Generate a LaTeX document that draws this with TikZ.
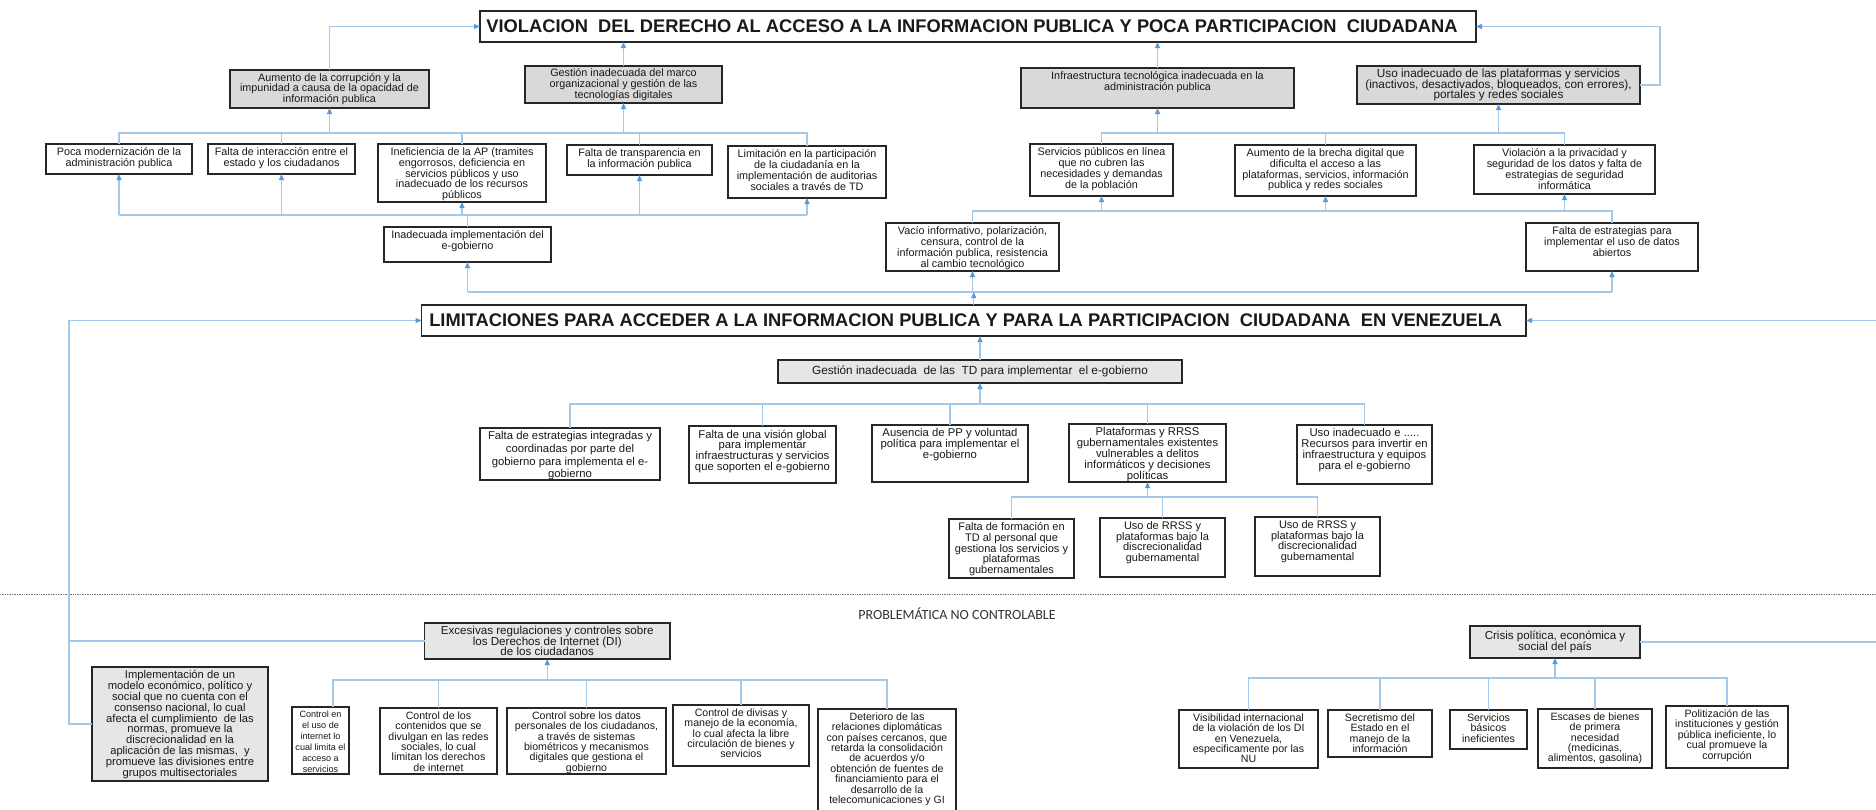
\documentclass[tikz,border=0pt]{standalone}
\usepackage{fontspec}
\setmainfont{Liberation Sans}
\newfontfamily\calfont{Carlito}
\usetikzlibrary{arrows.meta}
\definecolor{lineblue}{HTML}{A4C8EA}
\definecolor{tipblue}{HTML}{5B9BD5}
\definecolor{grayA}{HTML}{D9D9D9}
\definecolor{grayB}{HTML}{E6E6E6}
\newcommand\fs[2]{\fontsize{#1}{#2}\selectfont\lineskiplimit=-100pt\lineskip=0pt\relax}
\tikzset{
  box/.style={draw=black!85, line width=1.3pt, fill=white, inner sep=0pt, outer sep=0pt},
  gA/.style={fill=grayA},
  gB/.style={fill=grayB},
  txt/.style={inner sep=0pt, align=center, text=black!90},
  ft/.style={font=\fs{10.8}{10.8}},
  fA4/.style={font=\fs{11.8}{10.8}},
  fG/.style={font=\fs{11.3}{10.8}},
  fg1/.style={font=\fs{11.3}{12.6}},
  fH/.style={font=\fs{11}{10.6}},
  fF/.style={font=\fs{11.8}{13}},
  fb/.style={font=\fs{10.6}{10.4}},
  fk1/.style={font=\fs{9.1}{11}},
  fi/.style={font=\fs{11.2}{10.8}},
  fj/.style={font=\fs{11.6}{10.8}},
  ftitle/.style={font=\fs{18.3}{20}\bfseries},
  conn/.style={draw=lineblue, line width=1.1pt},
  arr/.style={-{Triangle[length=6pt,width=5pt,color=tipblue]}},
}
% top-aligned text box: [box style] name x1 y1 x2 y2 {text style} {text}
\newcommand\bx[8][]{%
  \pgfmathsetmacro\bw{#5-#3}\pgfmathsetmacro\bh{#6-#4}%
  \node[box,#1,minimum width=\bw pt,minimum height=\bh pt,anchor=north west] (#2) at (#3,#4) {};
  \node[txt,#7,anchor=north,yshift=-3.5pt] at (#2.north) {#8};}
% centred text box
\newcommand\bxc[8][]{%
  \pgfmathsetmacro\bw{#5-#3}\pgfmathsetmacro\bh{#6-#4}%
  \node[box,#1,minimum width=\bw pt,minimum height=\bh pt,anchor=north west] (#2) at (#3,#4) {};
  \node[txt,#7] at (#2.center) {#8};}
\begin{document}
\begin{tikzpicture}[x=1pt,y=-1pt]
\useasboundingbox (0,0) rectangle (1876,809);
\fill[white] (0,0) rectangle (1876,809);

% ---------- titles ----------
\bxc{T1}{480}{11}{1476}{42}{ftitle,xshift=-6pt}{VIOLACION\ \ DEL DERECHO AL ACCESO A LA INFORMACION PUBLICA Y POCA PARTICIPACION\ \ CIUDADANA}
\bxc{T2}{421.5}{305}{1526}{336}{ftitle,xshift=-8pt}{LIMITACIONES PARA ACCEDER A LA INFORMACION PUBLICA Y PARA LA PARTICIPACION\ \ CIUDADANA\ \ EN VENEZUELA}

% ---------- level A (gray) ----------
\bxc[gA]{A1}{230}{70}{429}{108}{ft}{Aumento de la corrupción y la\\impunidad a causa de la opacidad de\\información publica}
\bxc[gA]{A2}{525}{66}{722}{103}{ft}{Gestión inadecuada del marco\\organizacional y gestión de las\\tecnologías digitales}
\bx[gA]{A3}{1021}{68}{1294}{108}{ft}{Infraestructura tecnológica inadecuada en la\\administración publica}
\bxc[gA]{A4}{1357}{66}{1640}{104}{fA4}{Uso inadecuado de las plataformas y servicios\\(inactivos, desactivados, bloqueados, con errores),\\portales y redes sociales}

% ---------- level B ----------
\bx{B1}{46}{144}{192}{174}{ft}{Poca modernización de la\\administración publica}
\bx{B2}{208}{144}{355}{174}{ft}{Falta de interacción entre el\\estado y los ciudadanos}
\bx{B3}{378}{144}{546}{202}{ft}{Ineficiencia de la AP (tramites\\engorrosos, deficiencia en\\servicios públicos y uso\\inadecuado de los recursos\\públicos}
\bx{B4}{567}{145}{712}{175}{ft}{Falta de transparencia en\\la información publica}
\bx{B5}{728}{146}{886}{198}{ft}{Limitación en la participación\\de la ciudadanía en la\\implementación de auditorias\\sociales a través de TD}
\bx{C1}{384}{227}{551}{262}{ft}{Inadecuada implementación del\\e-gobierno}

\bx{D1}{1030}{144}{1173}{196}{ft}{Servicios públicos en línea\\que no cubren las\\necesidades y demandas\\de la población}
\bx{D2}{1235}{145}{1416}{196}{ft}{Aumento de la brecha digital que\\dificulta el acceso a las\\plataformas, servicios, información\\publica y redes sociales}
\bx{D3}{1474}{145}{1655}{194}{ft}{Violación a la privacidad y\\seguridad de los datos y falta de\\estrategias de seguridad\\informática}
\bx{E1}{886}{223}{1059}{271}{ft}{Vacío informativo, polarización,\\censura, control de la\\información publica, resistencia\\al cambio tecnológico}
\bx{E2}{1526}{223}{1698}{271}{ft}{Falta de estrategias para\\implementar el uso de datos\\abiertos}

% ---------- middle ----------
\bxc[gB]{F}{778}{360}{1182}{383}{fF}{Gestión inadecuada\ \ de las\ \ TD para implementar\ \ el e-gobierno}
\bx{G1}{480}{428}{660}{480}{fg1}{Falta de estrategias integradas y\\coordinadas por parte del\\gobierno para implementa el e-\\gobierno}
\bx{G2}{689}{426}{836}{483}{fG}{Falta de una visión global\\para implementar\\infraestructuras y servicios\\que soporten el e-gobierno}
\bx{G3}{872}{425}{1028}{482}{fG}{Ausencia de PP y voluntad\\política para implementar el\\e-gobierno}
\bx{G4}{1069}{424}{1226}{482}{fG}{Plataformas y RRSS\\gubernamentales existentes\\vulnerables a delitos\\informáticos y decisiones\\políticas}
\bx{G5}{1297}{425}{1432}{484}{fG}{Uso inadecuado e .....\\Recursos para invertir en\\infraestructura y equipos\\para el e-gobierno}
\bx{H1}{949}{519}{1074}{578}{fH}{Falta de formación en\\TD al personal que\\gestiona los servicios y\\plataformas\\gubernamentales}
\bx{H2}{1100}{518}{1225}{577}{fH}{Uso de RRSS y\\plataformas bajo la\\discrecionalidad\\gubernamental}
\bx{H3}{1255}{517}{1380}{576}{fH}{Uso de RRSS y\\plataformas bajo la\\discrecionalidad\\gubernamental}

% ---------- separator ----------
\draw[densely dotted, black!55, line width=0.7pt] (0,594) -- (1876,594);
\node[font=\calfont\fontsize{14}{16}\selectfont, text=black!80] (pnc) at (957,614) {PROBLEMÁTICA NO CONTROLABLE};

% ---------- bottom ----------
\bxc[gB]{J}{424.5}{623}{670}{659}{fj}{Excesivas regulaciones y controles sobre\\los Derechos de Internet (DI)\\de los ciudadanos}
\bx[gB]{I}{92}{667}{268}{781}{fi}{Implementación de un\\modelo económico, político y\\social que no cuenta con el\\consenso nacional, lo cual\\afecta el cumplimiento\ \ de las\\normas, promueve la\\discrecionalidad en la\\aplicación de las mismas,\ \ y\\promueve las divisiones entre\\grupos multisectoriales}
\bx{K1}{292}{707}{349}{774}{fk1}{Control en\\el uso de\\internet lo\\cual limita el\\acceso a\\servicios}
\bx{K2}{380}{708}{497}{774}{fb}{Control de los\\contenidos que se\\divulgan en las redes\\sociales, lo cual\\limitan los derechos\\de internet}
\bx{K3}{507}{708}{666}{774}{fb}{Control sobre los datos\\personales de los ciudadanos,\\a través de sistemas\\biométricos y mecanismos\\digitales que gestiona el\\gobierno}
\bx{K4}{673}{705}{809}{766}{fb}{Control de divisas y\\manejo de la economía,\\lo cual afecta la libre\\circulación de bienes y\\servicios}
\bx{K5}{818}{709}{956}{815}{fb}{Deterioro de las\\relaciones diplomáticas\\con países cercanos, que\\retarda la consolidación\\de acuerdos y/o\\obtención de fuentes de\\financiamiento para el\\desarrollo de la\\telecomunicaciones y GI}

\bxc[gB]{L}{1470}{626}{1640}{658}{fj}{Crisis política, económica y\\social del país}
\bx{M1}{1179}{710}{1318}{768}{fb}{Visibilidad internacional\\de la violación de los DI\\en Venezuela,\\especificamente por las\\NU}
\bx{M2}{1328}{710}{1432}{757}{fb}{Secretismo del\\Estado en el\\manejo de la\\información}
\bx{M3}{1450}{710}{1527}{749}{fb}{Servicios\\básicos\\ineficientes}
\bx{M4}{1538}{709}{1652}{768}{fb}{Escases de bienes\\de primera\\necesidad\\(medicinas,\\alimentos, gasolina)}
\bx{M5}{1666}{706}{1788}{768}{fb}{Politización de las\\instituciones y gestión\\pública ineficiente, lo\\cual promueve la\\corrupción}

% ---------- helper coordinates ----------
\coordinate (busA) at (0,133);
\coordinate (busB) at (0,215);
\coordinate (busC) at (0,211);
\coordinate (busD) at (0,292);
\coordinate (busG) at (0,404);
\coordinate (busH) at (0,497);
\coordinate (busK) at (0,680);
\coordinate (busM) at (0,678);
\coordinate (lc) at (69,0);
\coordinate (rc) at (1882,0);
\coordinate (a4c) at (1660,0);
\coordinate (k1x) at (333,0);

% ---------- connectors: top ----------
\draw[conn,arr] (A1.north) |- (T1.west);
\draw[conn,arr] (A2.north) -- (A2.north |- T1.south);
\draw[conn,arr] (A3.north) -- (A3.north |- T1.south);
\draw[conn,arr] (A4.east) -| (a4c |- T1.east) -- (T1.east);

\draw[conn] (B1.north) -- (B1.north |- busA) -- (B5.north |- busA) -- (B5.north);
\foreach \n in {B2,B3,B4} \draw[conn] (\n.north) -- (\n.north |- busA);
\draw[conn,arr] (A1.south |- busA) -- (A1.south);
\draw[conn,arr] (A2.south |- busA) -- (A2.south);

\draw[conn] (B1.south |- busB) -- (B5.south |- busB);
\foreach \n in {B1,B2,B3,B4,B5} \draw[conn,arr] (\n.south |- busB) -- (\n.south);
\draw[conn] (C1.north) -- (C1.north |- busB);

\draw[conn] (D1.north) -- (D1.north |- busA) -- (D3.north |- busA) -- (D3.north);
\draw[conn] (D2.north) -- (D2.north |- busA);
\draw[conn,arr] (A3.south |- busA) -- (A3.south);
\draw[conn,arr] (A4.south |- busA) -- (A4.south);

\draw[conn] (E1.north) -- (E1.north |- busC) -- (E2.north |- busC) -- (E2.north);
\foreach \n in {D1,D2,D3} \draw[conn,arr] (\n.south |- busC) -- (\n.south);

\draw[conn] (C1.south |- busD) -- (E2.south |- busD);
\draw[conn,arr] (T2.north) -- (T2.north |- busD);
\foreach \n in {C1,E1,E2} \draw[conn,arr] (\n.south |- busD) -- (\n.south);

% ---------- connectors: middle ----------
\draw[conn,arr] (F.north) -- (F.north |- T2.south);
\draw[conn] (G1.north) -- (G1.north |- busG) -- (G5.north |- busG) -- (G5.north);
\foreach \n in {G2,G3,G4} \draw[conn] (\n.north) -- (\n.north |- busG);
\draw[conn,arr] (F.south |- busG) -- (F.south);
\draw[conn] (H1.north) -- (H1.north |- busH) -- (H3.north |- busH) -- (H3.north);
\draw[conn] (H2.north) -- (H2.north |- busH);
\draw[conn,arr] (G4.south |- busH) -- (G4.south);

% ---------- connectors: bottom ----------
\draw[conn,arr] (I.west) -| (lc |- T2.west) -- (T2.west);
\draw[conn] (J.west) -- (lc |- J.west);
\draw[conn] (k1x |- K1.north) -- (k1x |- busK) -- (K5.north |- busK) -- (K5.north);
\foreach \n in {K2,K3,K4} \draw[conn] (\n.north) -- (\n.north |- busK);
\draw[conn,arr] (J.south |- busK) -- (J.south);

\draw[conn] (M1.north) -- (M1.north |- busM) -- (M5.north |- busM) -- (M5.north);
\foreach \n in {M2,M3,M4} \draw[conn] (\n.north) -- (\n.north |- busM);
\draw[conn,arr] (L.south |- busM) -- (L.south);
\draw[conn,arr] (L.east) -- (rc |- L.east) -- (rc |- T2.east) -- (T2.east);
\end{tikzpicture}
\end{document}
